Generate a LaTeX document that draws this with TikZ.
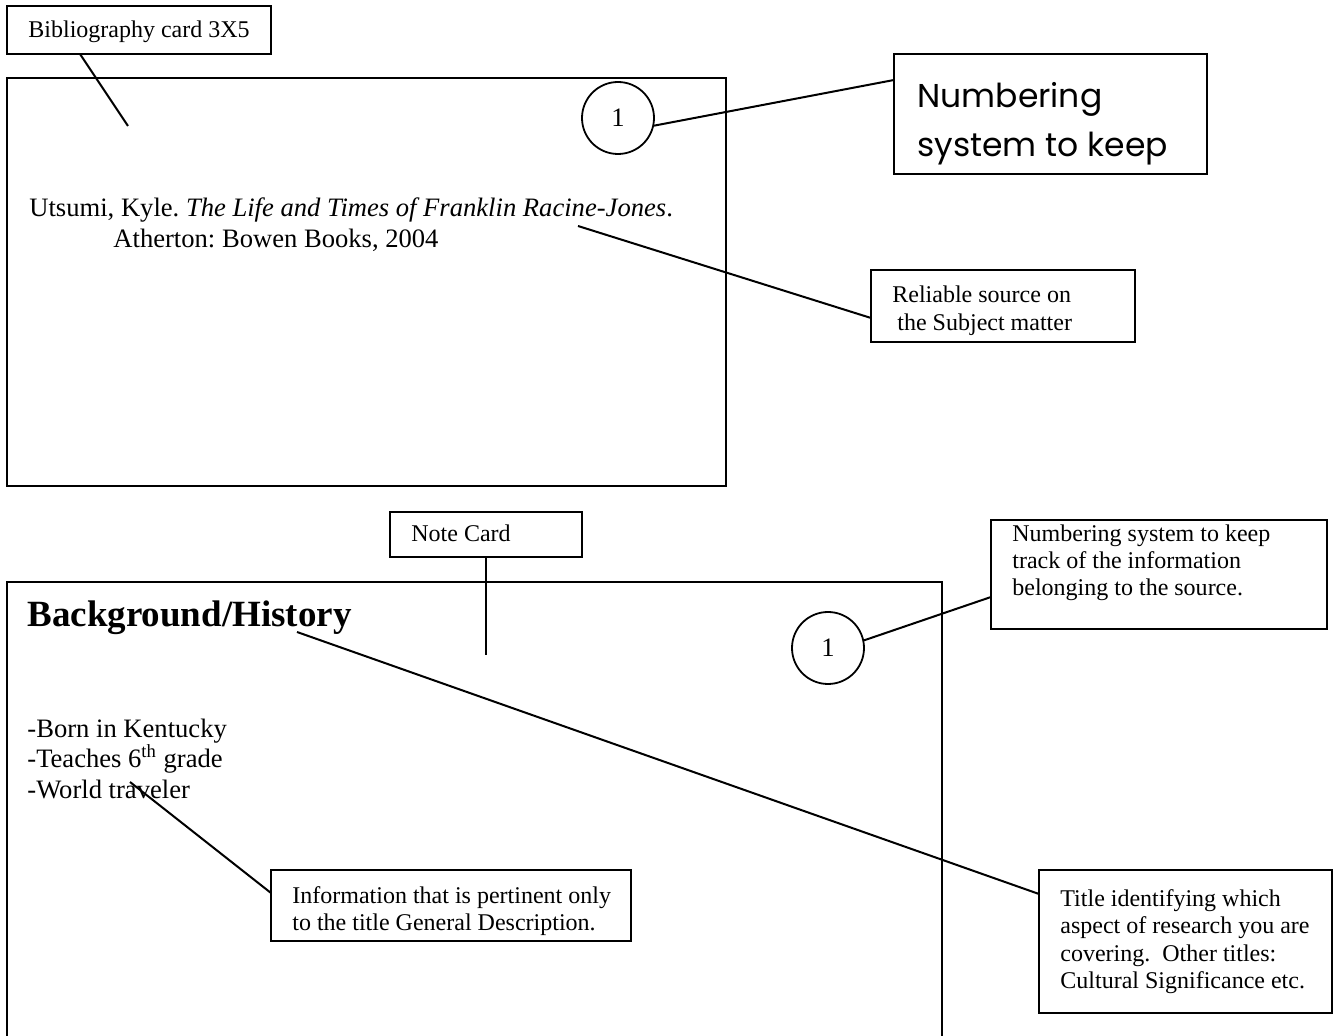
\documentclass[tikz,border=0pt]{standalone}
\usepackage{fontspec}
\setmainfont{Liberation Serif}
\newfontfamily\comicfont{Poppins}
\usetikzlibrary{calc}
\begin{document}
\frenchspacing
\begin{tikzpicture}[x=0.5pt,y=-0.5pt,
  box/.style={draw, line width=1pt, rectangle, inner sep=0pt, outer sep=0pt},
  num/.style={draw, circle, line width=0.9pt, inner sep=0pt, minimum size=36pt, font=\fontsize{13.3}{16}\selectfont},
  lbl/.style={anchor=base west, inner sep=0pt, font=\fontsize{12}{14}\selectfont},
  body/.style={anchor=base west, inner sep=0pt, font=\fontsize{13.3}{16}\selectfont},
  conn/.style={line width=1pt}]
\useasboundingbox (0,0) rectangle (1338,1036);
\clip (0,0) rectangle (1338,1036);
\fill[white] (0,0) rectangle (1338,1036);

% ---------- top: bibliography card ----------
\node[box, minimum width=359.5pt, minimum height=204pt] (card1) at (366.5,282) {};
\node[box, minimum width=132pt, minimum height=24pt] (bib) at (139,30) {};
\node[lbl] (bibt) at (28,38) {Bibliography card 3X5};
\coordinate (bibend) at (128,126);
\draw[conn] ([xshift=-29.5pt]bib.south) -- (bibend);

\node[num] (c1) at (618,118) {1};
\node[box, minimum width=156.5pt, minimum height=60pt] (numbox) at (1050.5,114) {};
\begin{scope}
\clip (894,54) rectangle (1207,174);
\node[anchor=base west, inner sep=0pt, font=\comicfont\fontsize{16.5}{20}\selectfont] (numt1) at (917,108) {Numbering};
\node[anchor=base west, inner sep=0pt, font=\comicfont\fontsize{16.5}{20}\selectfont] (numt2) at (917,157) {system to keep};
\end{scope}
\draw[conn] (c1.-12) -- ([yshift=17pt]numbox.west);

\node[body] (ref1) at (29,217) {Utsumi, Kyle. \textit{The Life and Times of Franklin Racine-Jones}.};
\node[body] (ref2) at (113,248) {Atherton: Bowen Books, 2004};
\coordinate (rj) at (578,226);

\node[box, minimum width=132pt, minimum height=36pt] (rel) at (1003,306) {};
\begin{scope}
\clip (871,270) rectangle (1135,336);
\node[lbl] (relt1) at (892,303) {Reliable source on};
\node[lbl] (relt2) at (897,331) {the Subject matter};
\end{scope}
\draw[conn] (rj) -- ([yshift=-6pt]rel.west);

% ---------- bottom: note card ----------
\node[box, minimum width=96pt, minimum height=22.5pt] (note) at (486,534.5) {};
\node[lbl] (notet) at (411,542) {Note Card};
\coordinate (noteend) at (486,655);
\draw[conn] (note.south) -- (noteend);

\node[box, minimum width=467.5pt, minimum height=239pt] (card2) at (474.5,821) {};
\node[anchor=base west, inner sep=0pt, font=\bfseries\fontsize{18.5}{22}\selectfont] (bh) at (27,627) {Background/History};
\node[body] (l1) at (27,737) {-Born in Kentucky};
\node[body] (l2) at (27,768) {-Teaches 6\textsuperscript{th} grade};
\node[body] (l3) at (27,798) {-World traveler};
\coordinate (bhpt) at (297,632);
\coordinate (trav) at (130,782);

\node[num] (c2) at (828,648) {1};
\node[box, minimum width=168pt, minimum height=54.5pt] (numbox2) at (1159,574.5) {};
\node[lbl] (nb1) at (1012,542) {Numbering system to keep};
\node[lbl] (nb2) at (1012,569) {track of the information};
\node[lbl] (nb3) at (1012,596) {belonging to the source.};
\draw[conn] (c2.12) -- ([yshift=-11.25pt]numbox2.west);

\node[box, minimum width=180pt, minimum height=35.5pt] (info) at (451,905.5) {};
\begin{scope}
\clip (271,870) rectangle (631,935);
\node[lbl] (inf1) at (292,903) {Information that is pertinent only};
\node[lbl] (inf2) at (292,930) {to the title General Description.};
\end{scope}
\draw[conn] (trav) -- ([yshift=6.25pt]info.west);

\node[box, minimum width=146.5pt, minimum height=71.5pt] (title) at (1185.5,941.5) {};
\node[lbl] (ti1) at (1060,906) {Title identifying which};
\node[lbl] (ti2) at (1060,933.5) {aspect of research you are};
\node[lbl] (ti3) at (1060,961) {covering.\ \ Other titles:};
\node[lbl] (ti4) at (1060,988.5) {Cultural Significance etc.};
\draw[conn] (bhpt) -- ([yshift=23.75pt]title.west);
\end{tikzpicture}
\end{document}
